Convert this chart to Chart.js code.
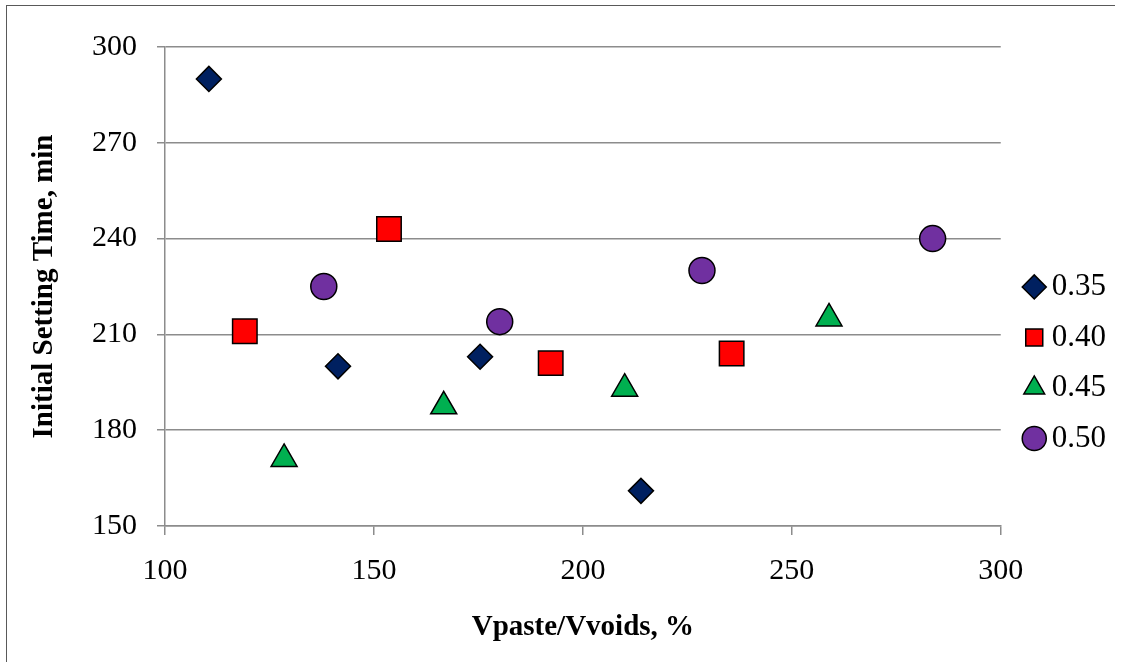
<!DOCTYPE html>
<html>
<head>
<meta charset="utf-8">
<script src="https://cdn.jsdelivr.net/npm/chart.js@4/dist/chart.umd.min.js"></script>
<style>
    body { margin: 0; background: #fff; }
    #wrap { position: relative; width: 1122px; height: 662px; }
    #frame { position: absolute; left: 6px; top: 5px; width: 1108px; height: 700px;
             border-left: 1.5px solid #595959; border-top: 1.5px solid #595959; pointer-events: none; }
</style>
</head>
<body>
<div id="wrap">
    <canvas id="settingChart"></canvas>
    <div id="frame"></div>
</div>
<script>
// series labels (w/c ratio)
var seriesNames = ['0.35', '0.40', '0.45', '0.50'];

// Vpaste/Vvoids, %
var x035 = [110.5, 141.4, 175.4, 213.9];
var x040 = [119.1, 153.6, 192.3, 235.6];
var x045 = [128.5, 166.7, 210.0, 258.9];
var x050 = [138.0, 180.1, 228.5, 283.7];

// initial setting time, min
var y035 = [290, 200, 203, 161];
var y040 = [211, 243, 201, 204];
var y045 = [171, 187.5, 193, 215];
var y050 = [225, 214, 230, 240];

var xTicks = [100, 150, 200, 250, 300];
var yTicks = [150, 180, 210, 240, 270, 300];

function toPoints(xs, ys) {
    var pts = [];
    for (var i = 0; i < xs.length; i++) {
        pts.push({x: xs[i], y: ys[i]});
    }
    return pts;
}

var serif = 'Liberation Serif';
var gridGrey = '#8c8c8c';

var ctx = document.getElementById('settingChart');

var myChart = new Chart(ctx, {
    type: 'scatter',
    data: {
        datasets: [{
            label: seriesNames[0],
            data: toPoints(x035, y035),
            pointStyle: 'rectRot',
            pointRadius: 12.5,
            backgroundColor: '#002060',
            borderColor: '#000',
            borderWidth: 1.5
        }, {
            label: seriesNames[1],
            data: toPoints(x040, y040),
            pointStyle: 'rect',
            pointRadius: 17.3,
            backgroundColor: '#ff0000',
            borderColor: '#000',
            borderWidth: 1.5
        }, {
            label: seriesNames[2],
            data: toPoints(x045, y045),
            pointStyle: 'triangle',
            pointRadius: 15,
            backgroundColor: '#00b050',
            borderColor: '#000',
            borderWidth: 1.5
        }, {
            label: seriesNames[3],
            data: toPoints(x050, y050),
            pointStyle: 'circle',
            pointRadius: 13,
            backgroundColor: '#7030a0',
            borderColor: '#000',
            borderWidth: 1.5
        }]
    },
    options: {
        responsive: true,
        maintainAspectRatio: false,
        animation: false,
        layout: { padding: { top: 47, right: 6, bottom: 10, left: 0 } },
        plugins: {
            tooltip: { enabled: false },
            legend: {
                position: 'right',
                // empty title only pushes the items down a bit
                title: { display: true, text: ' ', padding: 12.6, font: { size: 1 } },
                labels: {
                    usePointStyle: true,
                    boxWidth: 4,
                    boxHeight: 17,
                    padding: 19.5,
                    color: '#000',
                    font: { family: serif, size: 31 }
                }
            }
        },
        scales: {
            x: {
                type: 'linear',
                min: 100,
                max: 300,
                afterBuildTicks: function(axis) {
                    axis.ticks = xTicks.map(function(v) { return {value: v}; });
                },
                afterFit: function(axis) { axis.height = 126; },
                grid: { drawOnChartArea: false, drawTicks: true, tickLength: 9, tickColor: gridGrey, lineWidth: 1.5 },
                border: { color: gridGrey, width: 1.5 },
                ticks: { color: '#000', padding: 18, maxRotation: 0, font: { family: serif, size: 30 } },
                title: {
                    display: true,
                    text: 'Vpaste/Vvoids, %',
                    color: '#000',
                    padding: { top: 10, bottom: 6.6 },
                    font: { family: serif, size: 29, weight: 'bold' }
                }
            },
            y: {
                min: 150,
                max: 300,
                afterBuildTicks: function(axis) {
                    axis.ticks = yTicks.map(function(v) { return {value: v}; });
                },
                afterFit: function(axis) { axis.width = 165; },
                grid: { color: gridGrey, lineWidth: 1.5, tickLength: 8, tickColor: gridGrey },
                border: { color: gridGrey, width: 1.5 },
                ticks: { color: '#000', padding: 20, font: { family: serif, size: 30 } },
                title: {
                    display: true,
                    text: 'Initial Setting Time, min',
                    color: '#000',
                    padding: { top: 27.6, bottom: 10 },
                    font: { family: serif, size: 29, weight: 'bold' }
                }
            },
            // spacer between plot and legend
            gap: {
                type: 'linear',
                axis: 'y',
                position: 'right',
                afterFit: function(axis) { axis.width = 12; },
                grid: { display: false },
                border: { display: false },
                ticks: { display: false }
            }
        }
    }
});
</script>
</body>
</html>
